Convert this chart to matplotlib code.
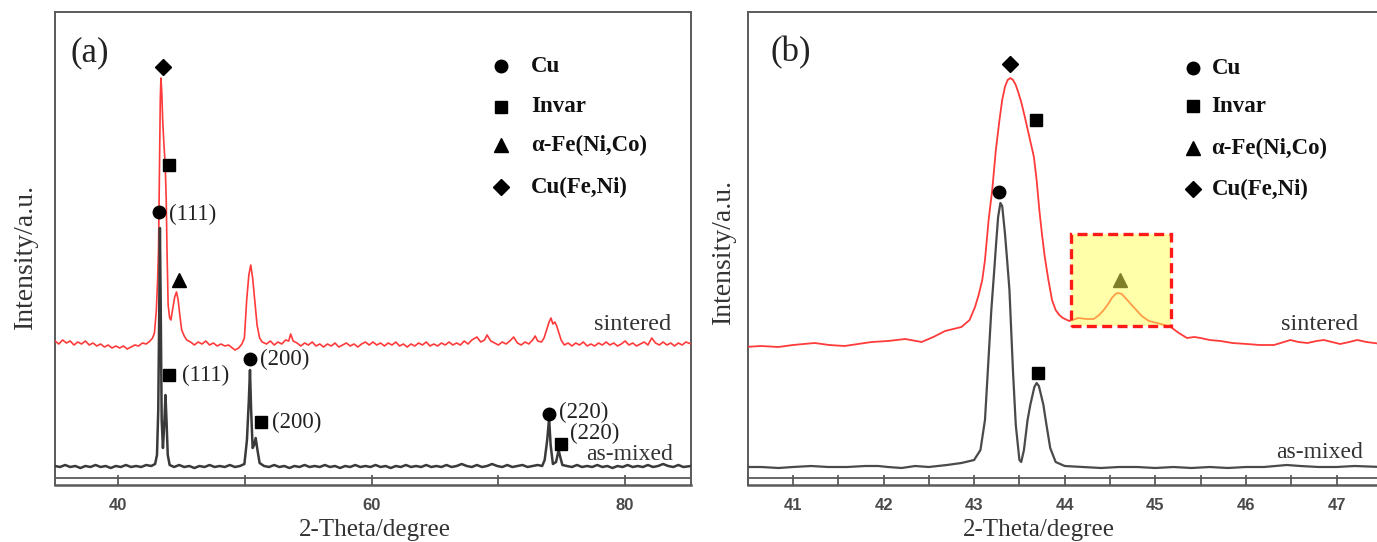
import matplotlib
matplotlib.use("Agg")
import matplotlib.pyplot as plt
from matplotlib.patches import Rectangle

# ---------------- data ----------------
# Panel (a): full scan
a_sint_x = [35.0, 35.3, 35.6, 35.9, 36.2, 36.5, 36.8, 37.1, 37.4, 37.7, 38.0, 38.3, 38.6, 38.9, 39.2, 39.5,
            39.8, 40.1, 40.4, 40.7, 41.0, 41.3, 41.6, 41.9, 42.2, 42.5, 42.7, 42.85, 43.0, 43.1, 43.17, 43.25,
            43.31, 43.36, 43.42, 43.5, 43.6, 43.7, 43.78, 43.84, 43.93, 44.05, 44.15, 44.3, 44.45, 44.59, 44.72,
            44.85, 45.0, 45.2, 45.4, 45.7, 46.0, 46.3, 46.6, 46.9, 47.2, 47.5, 47.8, 48.1, 48.4, 48.7, 49.0,
            49.2, 49.5, 49.75, 49.95, 50.13, 50.3, 50.45, 50.6, 50.8, 50.95, 51.15, 51.35, 51.7, 52.0, 52.3,
            52.6, 52.9, 53.2, 53.45, 53.6, 53.8, 54.1, 54.4, 54.7, 55.0, 55.3, 55.6, 55.9, 56.2, 56.5, 56.8,
            57.1, 57.4, 57.7, 58.0, 58.3, 58.6, 58.9, 59.2, 59.5, 59.8, 60.1, 60.4, 60.7, 61.0, 61.3, 61.6,
            61.9, 62.2, 62.5, 62.8, 63.1, 63.4, 63.7, 64.0, 64.3, 64.6, 64.9, 65.2, 65.5, 65.8, 66.1, 66.4,
            66.7, 67.0, 67.3, 67.6, 67.9, 68.3, 68.6, 68.9, 69.1, 69.4, 69.7, 70.0, 70.3, 70.6, 70.9, 71.2,
            71.5, 71.8, 72.1, 72.4, 72.7, 72.9, 73.1, 73.4, 73.6, 73.8, 74.0, 74.15, 74.3, 74.45, 74.6, 74.75,
            74.95, 75.2, 75.5, 75.8, 76.1, 76.4, 76.7, 77.0, 77.3, 77.6, 77.9, 78.2, 78.5, 78.8, 79.1, 79.4,
            79.7, 80.0, 80.3, 80.6, 80.9, 81.2, 81.5, 81.8, 82.1, 82.4, 82.7, 83.0, 83.3, 83.6, 83.9, 84.2,
            84.5, 84.8, 85.2]
a_sint_y = [144, 141, 145, 142, 144, 140, 143, 141, 144, 140, 142, 139, 141, 138, 140, 137,
            139, 137, 139, 136, 138, 140, 139, 142, 141, 144, 147, 152, 175, 205, 235, 325,
            385, 407, 395, 365, 340, 320, 285, 235, 180, 167, 165, 177, 188, 193, 185,
            170, 155, 149, 145, 143, 140, 143, 141, 144, 140, 142, 139, 141, 139, 140, 137,
            135, 137, 141, 147, 185, 210, 220, 207, 180, 160, 147, 143, 141, 144, 140,
            143, 141, 145, 144, 151, 144, 142, 139, 142, 140, 143, 139, 141, 138, 141, 139,
            142, 138, 140, 142, 139, 141, 138, 141, 143, 140, 143, 140, 142, 139, 142, 140,
            143, 139, 141, 138, 141, 139, 142, 140, 143, 139, 141, 139, 142, 140, 143, 140,
            142, 140, 144, 141, 145, 148, 143, 145, 150, 144, 142, 140, 143, 141, 144, 148,
            142, 140, 143, 141, 145, 149, 144, 143, 147, 155, 163, 167, 161, 163, 159, 153,
            145, 140, 142, 139, 142, 140, 143, 139, 141, 139, 142, 140, 143, 140, 142, 139,
            141, 144, 140, 142, 139, 141, 143, 140, 147, 142, 140, 143, 140, 142, 139, 142,
            140, 143, 141]

a_mix_x = [35.0, 35.4, 35.8, 36.2, 36.6, 37.0, 37.4, 37.8, 38.2, 38.6, 39.0, 39.4, 39.8, 40.2, 40.6, 41.0,
           41.4, 41.8, 42.2, 42.6, 42.9, 43.05, 43.15, 43.22, 43.28, 43.34, 43.42, 43.52, 43.62, 43.72, 43.8,
           43.9, 44.05, 44.4, 44.8, 45.2, 45.6, 46.0, 46.4, 46.8, 47.2, 47.6, 48.0, 48.4, 48.8, 49.2, 49.6,
           49.95, 50.15, 50.3, 50.39, 50.48, 50.6, 50.72, 50.84, 50.98, 51.15, 51.5, 51.9, 52.3, 52.7, 53.1,
           53.5, 53.9, 54.3, 54.7, 55.1, 55.5, 55.9, 56.3, 56.7, 57.1, 57.5, 57.9, 58.3, 58.7, 59.1, 59.5,
           59.9, 60.3, 60.7, 61.1, 61.5, 61.9, 62.3, 62.7, 63.1, 63.5, 63.9, 64.3, 64.7, 65.1, 65.5, 65.9,
           66.3, 66.7, 67.1, 67.5, 67.9, 68.3, 68.7, 69.1, 69.5, 69.9, 70.3, 70.7, 71.1, 71.5, 71.9, 72.3,
           72.7, 73.1, 73.45, 73.65, 73.85, 74.0, 74.12, 74.3, 74.55, 74.75, 74.9, 75.05, 75.4, 75.8, 76.2,
           76.6, 77.0, 77.4, 77.8, 78.2, 78.6, 79.0, 79.4, 79.8, 80.2, 80.6, 81.0, 81.4, 81.8, 82.2, 82.6,
           83.0, 83.4, 83.8, 84.2, 84.6, 85.2]
a_mix_y = [19, 18, 20, 18, 19, 17, 19, 18, 20, 18, 19, 17, 19, 18, 20, 18,
           19, 18, 20, 19, 21, 30, 75, 165, 257, 185, 65, 37, 60, 90, 65,
           30, 20, 18, 20, 18, 19, 17, 19, 18, 20, 18, 19, 18, 20, 18, 19,
           21, 45, 85, 115, 75, 37, 40, 47, 35, 22, 19, 18, 20, 18, 19,
           17, 19, 18, 20, 18, 19, 18, 20, 18, 19, 17, 19, 18, 20, 18, 19,
           18, 20, 18, 19, 17, 19, 18, 20, 18, 19, 18, 20, 18, 19, 18, 20,
           18, 19, 21, 19, 18, 20, 18, 19, 21, 19, 18, 20, 18, 19, 20, 18,
           19, 20, 19, 25, 45, 67, 40, 21, 23, 35, 27, 20, 19, 18, 20,
           18, 19, 18, 20, 18, 19, 17, 19, 18, 20, 18, 19, 18, 20, 18, 19,
           21, 19, 18, 20, 18, 19]

# Panel (b): zoom 40.5-47.5 degree
b_sint_x = [40.47, 40.65, 40.84, 41.0, 41.24, 41.4, 41.57, 41.72, 41.87, 42.05, 42.24, 42.42, 42.55, 42.68,
            42.86, 42.95, 43.01, 43.05, 43.09, 43.12, 43.16, 43.2, 43.24, 43.28, 43.31, 43.34, 43.37, 43.4,
            43.43, 43.46, 43.49, 43.52, 43.56, 43.6, 43.63, 43.66, 43.69, 43.72, 43.75, 43.78, 43.82, 43.86,
            43.9, 43.94, 43.98, 44.05, 44.15, 44.24, 44.32, 44.38, 44.43, 44.48, 44.52, 44.56, 44.59, 44.63,
            44.67, 44.72, 44.76, 44.85, 44.93, 45.06, 45.17, 45.26, 45.35, 45.43, 45.5, 45.6, 45.72, 45.85,
            46.01, 46.15, 46.31, 46.42, 46.49, 46.58, 46.68, 46.78, 46.86, 46.95, 47.04, 47.14, 47.23, 47.33,
            47.5]
b_sint_y = [138, 139, 138, 140, 142, 140, 139, 141, 143, 144, 146, 143, 148, 154,
            158, 165, 178, 190, 205, 225, 265, 295, 335, 365, 385, 398, 405, 407,
            405, 400, 392, 383, 368, 352, 340, 328, 305, 275, 250, 228, 205, 185,
            175, 170, 167, 164, 167, 166, 166, 170, 175, 181, 187, 191, 192, 191,
            187, 182, 178, 169, 164, 161, 158, 152, 147, 148, 147, 145, 144, 142,
            141, 140, 140, 143, 145, 143, 142, 144, 145, 143, 141, 143, 145, 143,
            141]

b_mix_x = [40.47, 40.65, 40.84, 41.0, 41.2, 41.39, 41.6, 41.8, 41.94, 42.05, 42.2, 42.35, 42.5, 42.7,
           42.86, 43.0, 43.07, 43.12, 43.15, 43.19, 43.22, 43.245, 43.265, 43.29, 43.31, 43.34, 43.36, 43.39,
           43.43, 43.46, 43.5, 43.52, 43.55, 43.59, 43.62, 43.665, 43.69, 43.715, 43.765, 43.79, 43.84, 43.9,
           44.0, 44.2, 44.4, 44.6, 44.8, 45.0, 45.2, 45.4, 45.6, 45.8, 46.0, 46.2, 46.45, 46.6, 46.8, 47.0,
           47.2, 47.5]
b_mix_y = [18, 18, 17, 18, 19, 18, 18, 19, 19, 18, 17, 19, 18, 20,
           22, 25, 35, 65, 112, 175, 212, 244, 268, 282, 279, 252, 230, 195,
           112, 60, 25, 23, 35, 65, 80, 98, 102, 99, 80, 65, 37, 23,
           19, 18, 17, 18, 18, 17, 18, 17, 18, 17, 18, 18, 20, 19, 18, 18,
           19, 18]

# phase markers: (x, y) for each panel
a_diamond = [(43.49, 418)]
a_square = [(44.02, 320), (44.02, 110), (51.23, 63), (74.9, 41)]
a_circle = [(43.23, 273), (50.39, 126), (74.0, 71)]
a_triangle = [(44.75, 205)]
a_hkl_text = ["(111)", "(111)", "(200)", "(200)", "(220)", "(220)"]
a_hkl_pos = [(44.0, 271), (45.0, 110), (51.2, 126), (52.1, 63), (74.78, 73), (75.65, 52)]

b_diamond = [(43.40, 421)]
b_square = [(43.68, 365), (43.70, 112)]
b_circle = [(43.28, 293)]
b_triangle = [(44.61, 205)]
b_box = (44.07, 159, 45.17, 251)   # x0, y0, x1, y1

legend_names = ["Cu", "Invar", "α-Fe(Ni,Co)", "Cu(Fe,Ni)"]
a_legend_y = [419, 378, 340, 298]
b_legend_y = [417, 379, 337, 296]

# ---------------- figure ----------------
W, H = 1377, 542
fig = plt.figure(figsize=(W / 100, H / 100), dpi=100)

SERIF = ["Liberation Serif", "DejaVu Serif"]
SANS = ["Liberation Sans", "DejaVu Sans"]
RED = "#ff3a3a"
DARK = "#3a3a3a"
SPINE = "#5a5a5a"

ax_a = fig.add_axes([55 / W, (542 - 485) / H, (691 - 55) / W, 473 / H])
ax_b = fig.add_axes([747.6 / W, (542 - 485) / H, (W * 1.0035 - 747.6) / W, 473 / H])


def style_axes(ax, xlim, major, minor):
    ax.set_xlim(*xlim)
    ax.set_ylim(0, 473)
    ax.set_yticks([])
    ax.set_xticks(major)
    ax.set_xticks(minor, minor=True)
    ax.tick_params(axis="x", which="both", direction="in", length=7, width=1.3,
                   color=SPINE, pad=9, labelsize=12, labelcolor="#4a4a4a")
    for lab in ax.get_xticklabels():
        lab.set_fontfamily(SANS)
        lab.set_fontweight("bold")
    for s in ax.spines.values():
        s.set_color(SPINE)
        s.set_linewidth(1.4)
    ax.spines["bottom"].set_linewidth(1.8)
    ax.axhline(7, color=SPINE, lw=1.3, zorder=1)


style_axes(ax_a, (35, 85.2), [40, 60, 80], [50, 70])
style_axes(ax_b, (40.5, 47.5), [41, 42, 43, 44, 45, 46, 47],
           [40.5, 41.5, 42.5, 43.5, 44.5, 45.5, 46.5, 47.5])
ax_b.spines["right"].set_visible(False)

# curves
ax_a.plot(a_sint_x, a_sint_y, color=RED, lw=1.2, zorder=3)
ax_a.plot(a_mix_x, a_mix_y, color=DARK, lw=1.8, zorder=3)
ax_b.plot(b_sint_x, b_sint_y, color=RED, lw=1.3, zorder=3)
ax_b.plot(b_mix_x, b_mix_y, color="#4a4a4a", lw=1.6, zorder=3)


def put_markers(ax, pts, marker, size):
    ax.plot([p[0] for p in pts], [p[1] for p in pts], linestyle="none", marker=marker,
            markersize=size, color="black", zorder=4)


for ax, dia, sq, ci, tr in [(ax_a, a_diamond, a_square, a_circle, a_triangle),
                            (ax_b, b_diamond, b_square, b_circle, b_triangle)]:
    put_markers(ax, dia, "D", 8)
    put_markers(ax, sq, "s", 8)
    put_markers(ax, ci, "o", 9)
    put_markers(ax, tr, "^", 10)

for t, (x, y) in zip(a_hkl_text, a_hkl_pos):
    ax_a.text(x, y, t, fontsize=16.5, family=SERIF, color="#222222", ha="left", va="center", zorder=5)


# legends (drawn as marker + text)
def draw_legend(ax, xm, xt, ys):
    marks = ["o", "s", "^", "D"]
    sizes = [9, 8, 10, 8]
    for m, s, y, name in zip(marks, sizes, ys, legend_names):
        ax.plot([xm], [y], marker=m, markersize=s, color="black", linestyle="none", zorder=4)
        ax.text(xt, y, name, fontsize=16.5, family=SERIF, fontweight="bold", ha="left",
                va="center", color="#111111", zorder=5)


draw_legend(ax_a, 70.2, 72.6, a_legend_y)
draw_legend(ax_b, 45.42, 45.62, b_legend_y)

# highlight box in (b)
x0, y0, x1, y1 = b_box
ax_b.add_patch(Rectangle((x0, y0), x1 - x0, y1 - y0, facecolor="#ffff55", alpha=0.5,
                         edgecolor="none", zorder=6))
ax_b.add_patch(Rectangle((x0, y0), x1 - x0, y1 - y0, facecolor="none", edgecolor="#ff1a1a",
                         lw=2.4, linestyle=(0, (3, 1.6)), zorder=7))

# panel labels and curve names
ax_a.text(36.25, 432, "(a)", fontsize=25, family=SERIF, color="#222222", ha="left", va="center")
ax_b.text(40.75, 432, "(b)", fontsize=25, family=SERIF, color="#222222", ha="left", va="center")
ax_a.text(83.6, 160, "sintered", fontsize=17.5, family=SERIF, color="#333333", ha="right", va="center")
ax_a.text(83.8, 30, "as-mixed", fontsize=17, family=SERIF, color="#333333", ha="right", va="center")
ax_b.text(47.24, 161, "sintered", fontsize=17.5, family=SERIF, color="#333333", ha="right", va="center")
ax_b.text(47.29, 32, "as-mixed", fontsize=17, family=SERIF, color="#333333", ha="right", va="center")

# axis labels
for ax, xl, yl_x, yl_y in [(ax_a, 0.503, -30 / 636, 0.484), (ax_b, 0.46, -24.6 / 634, 0.493)]:
    ax.set_xlabel("2-Theta/degree", fontsize=18, family=SERIF, color="#333333")
    ax.set_ylabel("Intensity/a.u.", fontsize=20, family=SERIF, color="#333333")
    ax.xaxis.label.set_va("center")
    ax.yaxis.label.set_va("center")
    ax.xaxis.set_label_coords(xl, -0.095)
    ax.yaxis.set_label_coords(yl_x, yl_y)

fig.savefig("out.png", dpi=100)
